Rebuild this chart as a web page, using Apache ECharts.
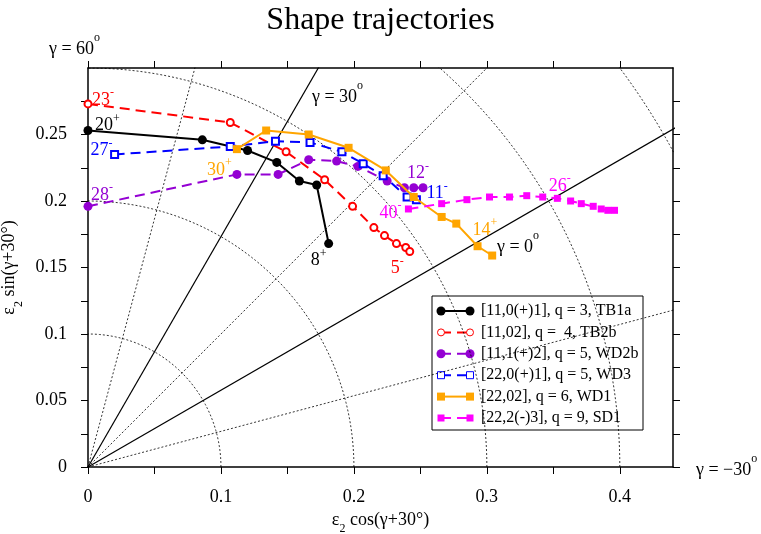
<!DOCTYPE html>
<html>
<head>
<meta charset="utf-8">
<script src="https://cdn.jsdelivr.net/npm/echarts@6/dist/echarts.min.js"></script>
<style>
  html, body { margin: 0; padding: 0; background: #fff; }
  #chart { width: 761px; height: 534px; }
</style>
</head>
<body>
<div id="chart"></div>
<script>
const FONT = '"Liberation Serif", "DejaVu Serif", serif';

// Axis ticks and tick labels
const xTickValues = [0, 0.05, 0.1, 0.15, 0.2, 0.25, 0.3, 0.35, 0.4];
const xLabelValues = [0, 0.1, 0.2, 0.3, 0.4];
const yTickValues = [0, 0.025, 0.05, 0.075, 0.1, 0.125, 0.15, 0.175, 0.2, 0.225, 0.25, 0.275];
const yLabelValues = [0, 0.05, 0.1, 0.15, 0.2, 0.25];

// Shape trajectories, points are [ε2 cos(γ+30°), ε2 sin(γ+30°)]
const tb1a = [[0, 0.253], [0.086, 0.246], [0.120, 0.238], [0.142, 0.229], [0.159, 0.215], [0.172, 0.212], [0.181, 0.168]];
const tb2b = [[0, 0.273], [0.107, 0.259], [0.149, 0.237], [0.178, 0.216], [0.199, 0.196], [0.215, 0.180], [0.223, 0.174], [0.232, 0.168], [0.239, 0.165], [0.242, 0.162]];
const wd2b = [[0, 0.196], [0.112, 0.220], [0.143, 0.220], [0.166, 0.231], [0.187, 0.230], [0.203, 0.226], [0.225, 0.215], [0.238, 0.210], [0.245, 0.210], [0.252, 0.210]];
const wd3 = [[0.020, 0.235], [0.107, 0.241], [0.141, 0.245], [0.167, 0.244], [0.191, 0.237], [0.207, 0.228], [0.222, 0.219], [0.240, 0.203], [0.247, 0.201]];
const wd1 = [[0.112, 0.239], [0.134, 0.253], [0.166, 0.250], [0.196, 0.240], [0.224, 0.223], [0.245, 0.203], [0.266, 0.188], [0.277, 0.183], [0.293, 0.166], [0.304, 0.159]];
const sd1 = [[0.241, 0.194], [0.266, 0.198], [0.285, 0.201], [0.302, 0.203], [0.317, 0.203], [0.330, 0.204], [0.342, 0.203], [0.353, 0.202], [0.363, 0.200], [0.371, 0.198], [0.380, 0.196], [0.386, 0.194], [0.391, 0.193], [0.396, 0.193]];

const seriesNames = [
  '[11,0(+)1], q = 3, TB1a',
  '[11,02], q =  4, TB2b',
  '[11,1(+)2], q = 5, WD2b',
  '[22,0(+)1], q = 5, WD3',
  '[22,02], q = 6, WD1',
  '[22,2(-)3], q = 9, SD1'
];

// Spin / parity labels at trajectory points
const spinLabels = [
  { series: 0, index: 0, text: '20', sign: '+', dx: 7, dy: -7 },
  { series: 0, index: 6, text: '8', sign: '+', dx: -18, dy: 15 },
  { series: 1, index: 0, text: '23', sign: '-', dx: 4, dy: -6 },
  { series: 1, index: 9, text: '5', sign: '-', dx: -19, dy: 15 },
  { series: 2, index: 0, text: '28', sign: '-', dx: 3, dy: -13 },
  { series: 2, index: 9, text: '12', sign: '-', dx: -16, dy: -16 },
  { series: 3, index: 0, text: '27', sign: '-', dx: -24, dy: -6 },
  { series: 3, index: 8, text: '11', sign: '-', dx: 10, dy: -8 },
  { series: 4, index: 0, text: '30', sign: '+', dx: -30, dy: 19 },
  { series: 4, index: 8, text: '14', sign: '+', dx: -5, dy: -18 },
  { series: 5, index: 0, text: '40', sign: '-', dx: -29, dy: 2 },
  { series: 5, index: 6, text: '26', sign: '-', dx: 6, dy: -13 }
];

// Guides: constant-ε2 circles and constant-γ rays (angle from the x axis)
const ringRadii = [0.1, 0.2, 0.3, 0.4, 0.5];
const solidRayAngles = [30, 60];
const dottedRayAngles = [15, 45, 75];

const DASH = [10, 6];
const styles = [
  { color: '#000000', line: 'solid', symbol: 'circle', size: 9, hollow: false },
  { color: '#ff0000', line: DASH, symbol: 'emptyCircle', size: 7, hollow: true },
  { color: '#9400d3', line: DASH, symbol: 'circle', size: 9, hollow: false },
  { color: '#0000ff', line: DASH, symbol: 'emptyRect', size: 7, hollow: true },
  { color: '#ffa500', line: 'solid', symbol: 'rect', size: 8, hollow: false },
  { color: '#ff00ff', line: DASH, symbol: 'rect', size: 7, hollow: false }
];
const trajectories = [tb1a, tb2b, wd2b, wd3, wd1, sd1];

function degToRad(d) { return d * Math.PI / 180; }

function circlePoints(r) {
  const pts = [];
  for (let a = 0; a <= 90; a += 1) {
    pts.push([r * Math.cos(degToRad(a)), r * Math.sin(degToRad(a))]);
  }
  return pts;
}

function rayPoints(angle) {
  return [[0, 0], [Math.cos(degToRad(angle)), Math.sin(degToRad(angle))]];
}

const guideSeries = [];
ringRadii.forEach(r => guideSeries.push({
  type: 'line', data: circlePoints(r), showSymbol: false, silent: true, clip: true,
  lineStyle: { color: '#000', width: 0.8, type: [2, 2] }, z: 1, animation: false
}));
dottedRayAngles.forEach(a => guideSeries.push({
  type: 'line', data: rayPoints(a), showSymbol: false, silent: true, clip: true,
  lineStyle: { color: '#000', width: 0.8, type: [2, 2] }, z: 1, animation: false
}));
solidRayAngles.forEach(a => guideSeries.push({
  type: 'line', data: rayPoints(a), showSymbol: false, silent: true, clip: true,
  lineStyle: { color: '#000', width: 1.2, type: 'solid' }, z: 1, animation: false
}));

function spinRich(color) {
  return {
    n: { fontFamily: FONT, fontSize: 18, color: color, lineHeight: 22, verticalAlign: 'bottom' },
    s: { fontFamily: FONT, fontSize: 12, color: color, lineHeight: 12, verticalAlign: 'top' }
  };
}

const dataSeries = trajectories.map((pts, si) => {
  const st = styles[si];
  const data = pts.map((p, i) => {
    const lab = spinLabels.find(l => l.series === si && l.index === i);
    if (!lab) return { value: p };
    return {
      value: p,
      label: {
        show: true,
        position: 'inside',
        align: 'left',
        verticalAlign: 'middle',
        offset: [lab.dx, lab.dy],
        formatter: '{n|' + lab.text + '}{s|' + lab.sign + '}',
        rich: spinRich(st.color)
      }
    };
  });
  return {
    type: 'line',
    name: seriesNames[si],
    data: data,
    symbol: st.symbol,
    symbolSize: st.size,
    showSymbol: true,
    showAllSymbol: true,
    clip: false,
    itemStyle: { color: st.color, borderWidth: st.hollow ? 1 : 0 },
    lineStyle: { color: st.color, width: 2, type: st.line },
    z: 3 + si,
    animation: false
  };
});

// Legend box drawn from the series definitions
function legendGraphic() {
  const left = 432, top = 296, width = 211, height = 134;
  const x1 = 441, x2 = 470, tx = 481, y0 = 311, step = 21.4;
  const children = [{
    type: 'rect',
    shape: { x: left, y: top, width: width, height: height },
    style: { fill: '#fff', stroke: '#000', lineWidth: 1 }
  }];
  seriesNames.forEach((name, i) => {
    const st = styles[i];
    const y = y0 + i * step;
    children.push({
      type: 'line',
      shape: { x1: x1, y1: y, x2: x2, y2: y },
      style: { stroke: st.color, lineWidth: 2, lineDash: st.line === 'solid' ? null : st.line }
    });
    [x1, x2].forEach(x => {
      if (st.symbol.indexOf('ircle') >= 0) {
        children.push({
          type: 'circle',
          shape: { cx: x, cy: y, r: st.size / 2 },
          style: { fill: st.hollow ? '#fff' : st.color, stroke: st.color, lineWidth: st.hollow ? 1 : 0 }
        });
      } else {
        const s = st.size;
        children.push({
          type: 'rect',
          shape: { x: x - s / 2, y: y - s / 2, width: s, height: s },
          style: { fill: st.hollow ? '#fff' : st.color, stroke: st.color, lineWidth: st.hollow ? 1 : 0 }
        });
      }
    });
    children.push({
      type: 'text',
      style: { x: tx, y: y, text: name, fill: '#000', font: '16px ' + FONT, verticalAlign: 'middle', align: 'left' }
    });
  });
  return { type: 'group', z: 100, children: children };
}

function gammaLabel(x, y, value) {
  return {
    type: 'text',
    z: 50,
    style: {
      x: x, y: y,
      text: '{g|γ = ' + value + '}{o|o}',
      verticalAlign: 'middle', align: 'left',
      rich: {
        g: { fontFamily: FONT, fontSize: 18, color: '#000', lineHeight: 26, verticalAlign: 'bottom' },
        o: { fontFamily: FONT, fontSize: 12, color: '#000', lineHeight: 12, verticalAlign: 'top' }
      }
    }
  };
}

const axisFont = { fontFamily: FONT, fontSize: 18, color: '#000' };
const axisLineStyle = { color: '#000', width: 1.5 };
const tickStyle = { color: '#000', width: 1 };

function nameRich() {
  return {
    e: { fontFamily: FONT, fontSize: 18, color: '#000', lineHeight: 24, verticalAlign: 'top' },
    s: { fontFamily: FONT, fontSize: 12, color: '#000', lineHeight: 12, verticalAlign: 'bottom' }
  };
}

const option = {
  backgroundColor: '#fff',
  animation: false,
  title: {
    text: 'Shape trajectories',
    left: 'center',
    top: 0,
    textStyle: { fontFamily: FONT, fontSize: 32, fontWeight: 'normal', color: '#000' }
  },
  grid: { left: 88, right: 88, top: 68, bottom: 67, containLabel: false, outerBoundsMode: 'none' },
  xAxis: [
    {
      type: 'value', min: 0, max: 0.44, position: 'bottom',
      axisLine: { show: true, onZero: false, lineStyle: axisLineStyle },
      axisTick: { show: true, inside: false, length: 7, customValues: xTickValues, lineStyle: tickStyle },
      axisLabel: Object.assign({ customValues: xLabelValues, margin: 21 }, axisFont),
      splitLine: { show: false },
      name: '{e|ε}{s|2}{e| cos(γ+30°)}',
      nameLocation: 'middle', nameGap: 37,
      nameTextStyle: { rich: nameRich() }
    },
    {
      type: 'value', min: 0, max: 0.44, position: 'top',
      axisLine: { show: true, onZero: false, lineStyle: axisLineStyle },
      axisTick: { show: true, inside: false, length: 7, customValues: xTickValues, lineStyle: tickStyle },
      axisLabel: { show: false },
      splitLine: { show: false }
    }
  ],
  yAxis: [
    {
      type: 'value', min: 0, max: 0.3, position: 'left',
      axisLine: { show: true, onZero: false, lineStyle: axisLineStyle },
      axisTick: { show: true, inside: false, length: 7, customValues: yTickValues, lineStyle: tickStyle },
      axisLabel: Object.assign({ customValues: yLabelValues, margin: 21 }, axisFont),
      splitLine: { show: false },
      name: '{e|ε}{s|2}{e| sin(γ+30°)}',
      nameLocation: 'middle', nameGap: 59, nameRotate: 90,
      nameTextStyle: { rich: nameRich() }
    },
    {
      type: 'value', min: 0, max: 0.3, position: 'right',
      axisLine: { show: true, onZero: false, lineStyle: axisLineStyle },
      axisTick: { show: true, inside: false, length: 7, customValues: yTickValues, lineStyle: tickStyle },
      axisLabel: { show: false },
      splitLine: { show: false }
    }
  ],
  series: guideSeries.concat(dataSeries),
  graphic: [
    gammaLabel(49, 45, '60'),
    gammaLabel(312, 93, '30'),
    gammaLabel(497, 243, '0'),
    gammaLabel(696, 466, '\u221230'),
    legendGraphic()
  ]
};

const chart = echarts.init(document.getElementById('chart'), null, { renderer: 'canvas' });
chart.setOption(option);
</script>
</body>
</html>
